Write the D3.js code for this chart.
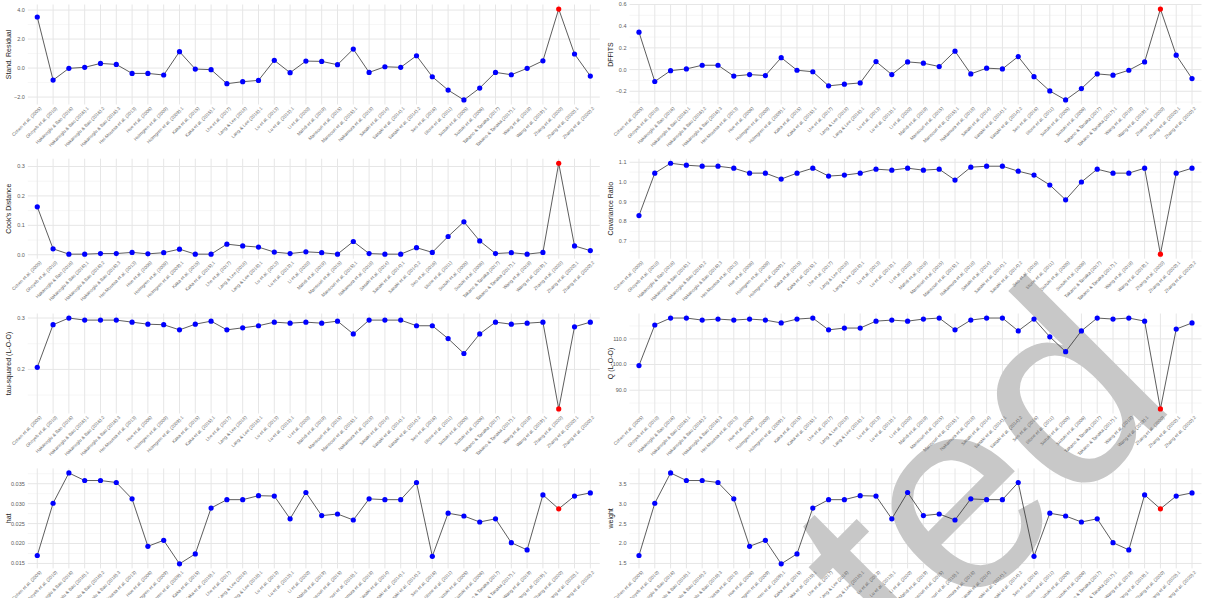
<!DOCTYPE html>
<html>
<head>
<meta charset="utf-8">
<script src="https://cdn.jsdelivr.net/npm/d3@7"></script>
<style>
  body { margin: 0; background: #fff; }
  text { font-family: "Liberation Sans", Arial, sans-serif; }
</style>
</head>
<body>
<script>
var width  = 1214,
    height = 598;

var studies = [
  'Cohen et al. (2005)', 'Ghoyeb et al. (2010)', 'Hakanoglu & Bao (2016)', 'Hakanoglu & Bao (2016).1',
  'Hakanoglu & Bao (2016).2', 'Hakanoglu & Bao (2016).3', 'Hel-Moussa et al. (2013)', 'Hue et al. (2006)',
  'Holmgren et al. (2009)', 'Holmgren et al. (2009).1', 'Kaka et al. (2015)', 'Kaka et al. (2015).1',
  'Lhe et al. (2017)', 'Lang & Lee (2018)', 'Lang & Lee (2018).1', 'Lu et al. (2013)',
  'Lu et al. (2013).1', 'Li et al. (2020)', 'Mahdi et al. (2019)', 'Mansouri et al. (2015)',
  'Mansouri et al. (2015).1', 'Nakamura et al. (2018)', 'Sasaki et al. (2014)', 'Sasaki et al. (2014).1',
  'Sasaki et al. (2014).2', 'Seo et al. (2016)', 'Stone et al. (2011)', 'Suzuki et al. (2005)',
  'Suzuki et al. (2006)', 'Takano & Tanaka (2017)', 'Takano & Tanaka (2017).1', 'Wang et al. (2019)',
  'Wang et al. (2019).1', 'Zhang et al. (2020)', 'Zhang et al. (2020).1', 'Zhang et al. (2020).2'
];

// index of the flagged (influential) study
var flagged = 33;

var stdResid = [3.52, -0.83, -0.02, 0.05, 0.32, 0.25, -0.37, -0.37, -0.48, 1.13, -0.07, -0.11,
  -1.08, -0.94, -0.85, 0.53, -0.32, 0.48, 0.46, 0.23, 1.31, -0.30, 0.09, 0.05,
  0.85, -0.60, -1.52, -2.20, -1.38, -0.30, -0.46, -0.02, 0.50, 4.07, 0.97, -0.55];

var dffits = [0.345, -0.11, -0.01, 0.006, 0.04, 0.04, -0.06, -0.046, -0.055, 0.11, -0.006, -0.02,
  -0.15, -0.135, -0.123, 0.074, -0.046, 0.071, 0.059, 0.028, 0.17, -0.04, 0.013, 0.006,
  0.12, -0.065, -0.197, -0.28, -0.175, -0.04, -0.052, -0.006, 0.071, 0.558, 0.133, -0.083];

var cooks = [0.163, 0.02, 0.002, 0.002, 0.004, 0.004, 0.008, 0.003, 0.007, 0.019, 0.002, 0.002,
  0.036, 0.03, 0.026, 0.009, 0.004, 0.01, 0.007, 0.002, 0.045, 0.004, 0.002, 0.002,
  0.024, 0.008, 0.062, 0.112, 0.047, 0.004, 0.007, 0.002, 0.008, 0.311, 0.03, 0.014];

var covRatio = [0.83, 1.045, 1.095, 1.085, 1.08, 1.08, 1.07, 1.045, 1.045, 1.015, 1.045, 1.07,
  1.03, 1.035, 1.045, 1.065, 1.06, 1.07, 1.06, 1.065, 1.01, 1.075, 1.08, 1.08,
  1.055, 1.035, 0.985, 0.91, 1.0, 1.065, 1.045, 1.045, 1.07, 0.635, 1.045, 1.07];

var tau2 = [0.204, 0.287, 0.300, 0.296, 0.296, 0.296, 0.292, 0.288, 0.287, 0.277, 0.288, 0.294,
  0.277, 0.281, 0.285, 0.292, 0.290, 0.292, 0.290, 0.294, 0.269, 0.296, 0.296, 0.296,
  0.285, 0.285, 0.260, 0.231, 0.269, 0.292, 0.288, 0.290, 0.292, 0.123, 0.283, 0.292];

var qLoo = [99.6, 115.4, 118.1, 118.1, 117.3, 117.7, 117.3, 117.7, 117.3, 116.2, 117.7, 118.1,
  113.5, 114.2, 114.2, 116.9, 117.3, 116.9, 117.7, 118.1, 113.5, 117.3, 118.1, 118.1,
  113.1, 117.7, 110.8, 105.0, 113.1, 118.1, 117.7, 118.1, 116.9, 82.7, 113.8, 116.2];

var weight = [1.70, 3.01, 3.77, 3.58, 3.58, 3.53, 3.12, 1.93, 2.08, 1.49, 1.74, 2.89,
  3.10, 3.10, 3.20, 3.19, 2.62, 3.28, 2.70, 2.74, 2.59, 3.12, 3.10, 3.10,
  3.53, 1.68, 2.76, 2.69, 2.54, 2.62, 2.02, 1.84, 3.22, 2.87, 3.19, 3.27];

var hat = [0.0170, 0.0301, 0.0377, 0.0358, 0.0358, 0.0353, 0.0312, 0.0193, 0.0208, 0.0149, 0.0174, 0.0289,
  0.0310, 0.0310, 0.0320, 0.0319, 0.0262, 0.0328, 0.0270, 0.0274, 0.0259, 0.0312, 0.0310, 0.0310,
  0.0353, 0.0168, 0.0276, 0.0269, 0.0254, 0.0262, 0.0202, 0.0184, 0.0322, 0.0287, 0.0319, 0.0327];

var ticksResid = [-2, 0, 2, 4];
var ticksDffits = [-0.2, 0, 0.2, 0.4, 0.6];
var ticksCooks = [0, 0.1, 0.2, 0.3];
var ticksCov = [0.7, 0.8, 0.9, 1.0, 1.1];
var ticksTau = [0.2, 0.3];
var ticksQ = [90, 100, 110];
var ticksHat = [0.015, 0.02, 0.025, 0.03, 0.035];
var ticksWeight = [1.5, 2.0, 2.5, 3.0, 3.5];

var panels = [
  {title: 'Stand. Residual', values: stdResid, ticks: ticksResid, fmt: '.1f', col: 0, row: 0},
  {title: 'DFFITS', values: dffits, ticks: ticksDffits, fmt: '.1f', col: 1, row: 0},
  {title: "Cook's Distance", values: cooks, ticks: ticksCooks, fmt: '.1f', col: 0, row: 1},
  {title: 'Covariance Ratio', values: covRatio, ticks: ticksCov, fmt: '.1f', col: 1, row: 1},
  {title: 'tau-squared (L-O-O)', values: tau2, ticks: ticksTau, fmt: '.1f', col: 0, row: 2},
  {title: 'Q (L-O-O)', values: qLoo, ticks: ticksQ, fmt: '.1f', col: 1, row: 2},
  {title: 'hat', values: hat, ticks: ticksHat, fmt: '.3f', col: 0, row: 3},
  {title: 'weight', values: weight, ticks: ticksWeight, fmt: '.1f', col: 1, row: 3}
];

var colX = [27.8, 629.5],
    plotW = 572,
    rowY = [4.5, 158.7, 313.5, 468.4],
    plotH = 100;

var svg = d3.select('body')
    .append('svg')
    .attr('width', width)
    .attr('height', height);

// layers: grid, then watermark, then marks and text
var gridLayer = svg.append('g').attr('class', 'grid');

svg.append('text')
    .attr('transform', 'translate(1180,402) rotate(-45)')
    .attr('text-anchor', 'end')
    .attr('font-size', 276)
    .attr('fill', '#c8c8c8')
    .text('Accepted');

var markLayer = svg.append('g').attr('class', 'marks');

var x = d3.scalePoint()
    .domain(d3.range(studies.length))
    .padding(0.6);

panels.forEach(function(p) {
    var left = colX[p.col],
        top = rowY[p.row],
        bottom = top + plotH;

    var xs = x.copy().range([left, left + plotW]);

    var ext = d3.extent(p.values),
        pad = (ext[1] - ext[0]) * 0.05;
    var y = d3.scaleLinear()
        .domain([ext[0] - pad, ext[1] + pad])
        .range([bottom, top]);

    var gg = gridLayer.append('g');
    var g = markLayer.append('g').attr('class', 'panel');

    // minor grid lines halfway between major ticks
    var step = p.ticks.length > 1 ? p.ticks[1] - p.ticks[0] : 0.1;
    var minors = [];
    for (var v = p.ticks[0] - step / 2; v <= ext[1] + pad; v += step) {
        if (v >= ext[0] - pad) minors.push(v);
    }
    gg.selectAll('line.minor')
        .data(minors)
        .enter().append('line')
        .attr('x1', left).attr('x2', left + plotW)
        .attr('y1', function(d) { return y(d); })
        .attr('y2', function(d) { return y(d); })
        .attr('stroke', '#f0f0f0')
        .attr('stroke-width', 0.6);

    gg.selectAll('line.major')
        .data(p.ticks)
        .enter().append('line')
        .attr('x1', left).attr('x2', left + plotW)
        .attr('y1', function(d) { return y(d); })
        .attr('y2', function(d) { return y(d); })
        .attr('stroke', '#e6e6e6')
        .attr('stroke-width', 1);

    gg.selectAll('line.vgrid')
        .data(d3.range(studies.length))
        .enter().append('line')
        .attr('x1', function(d) { return xs(d); })
        .attr('x2', function(d) { return xs(d); })
        .attr('y1', top).attr('y2', bottom)
        .attr('stroke', '#e6e6e6')
        .attr('stroke-width', 1);

    // y tick labels
    var f = d3.format(p.fmt);
    g.selectAll('text.ytick')
        .data(p.ticks)
        .enter().append('text')
        .attr('x', left - 3)
        .attr('y', function(d) { return y(d); })
        .attr('dy', '0.35em')
        .attr('text-anchor', 'end')
        .attr('font-size', 5.5)
        .attr('fill', '#5a5a5a')
        .text(function(d) { return f(d); });

    // y axis title
    g.append('text')
        .attr('transform', 'translate(' + (left - 17) + ',' + (top + plotH / 2) + ') rotate(-90)')
        .attr('text-anchor', 'middle')
        .attr('font-size', 7)
        .attr('fill', '#222')
        .text(p.title);

    // x labels
    g.selectAll('text.xtick')
        .data(studies)
        .enter().append('text')
        .attr('transform', function(d, i) {
            return 'translate(' + (xs(i) + 2) + ',' + (bottom + 2) + ') rotate(-45)';
        })
        .attr('text-anchor', 'end')
        .attr('dy', '0.7em')
        .attr('font-size', 4.6)
        .attr('fill', '#6a6a6a')
        .text(function(d) { return d; });

    var line = d3.line()
        .x(function(d, i) { return xs(i); })
        .y(function(d) { return y(d); });

    g.append('path')
        .datum(p.values)
        .attr('d', line)
        .attr('fill', 'none')
        .attr('stroke', '#333')
        .attr('stroke-width', 0.8);

    g.selectAll('circle')
        .data(p.values)
        .enter().append('circle')
        .attr('cx', function(d, i) { return xs(i); })
        .attr('cy', function(d) { return y(d); })
        .attr('r', 2.6)
        .attr('fill', function(d, i) { return i === flagged ? '#ff0000' : '#0000ff'; });
});
</script>
</body>
</html>
